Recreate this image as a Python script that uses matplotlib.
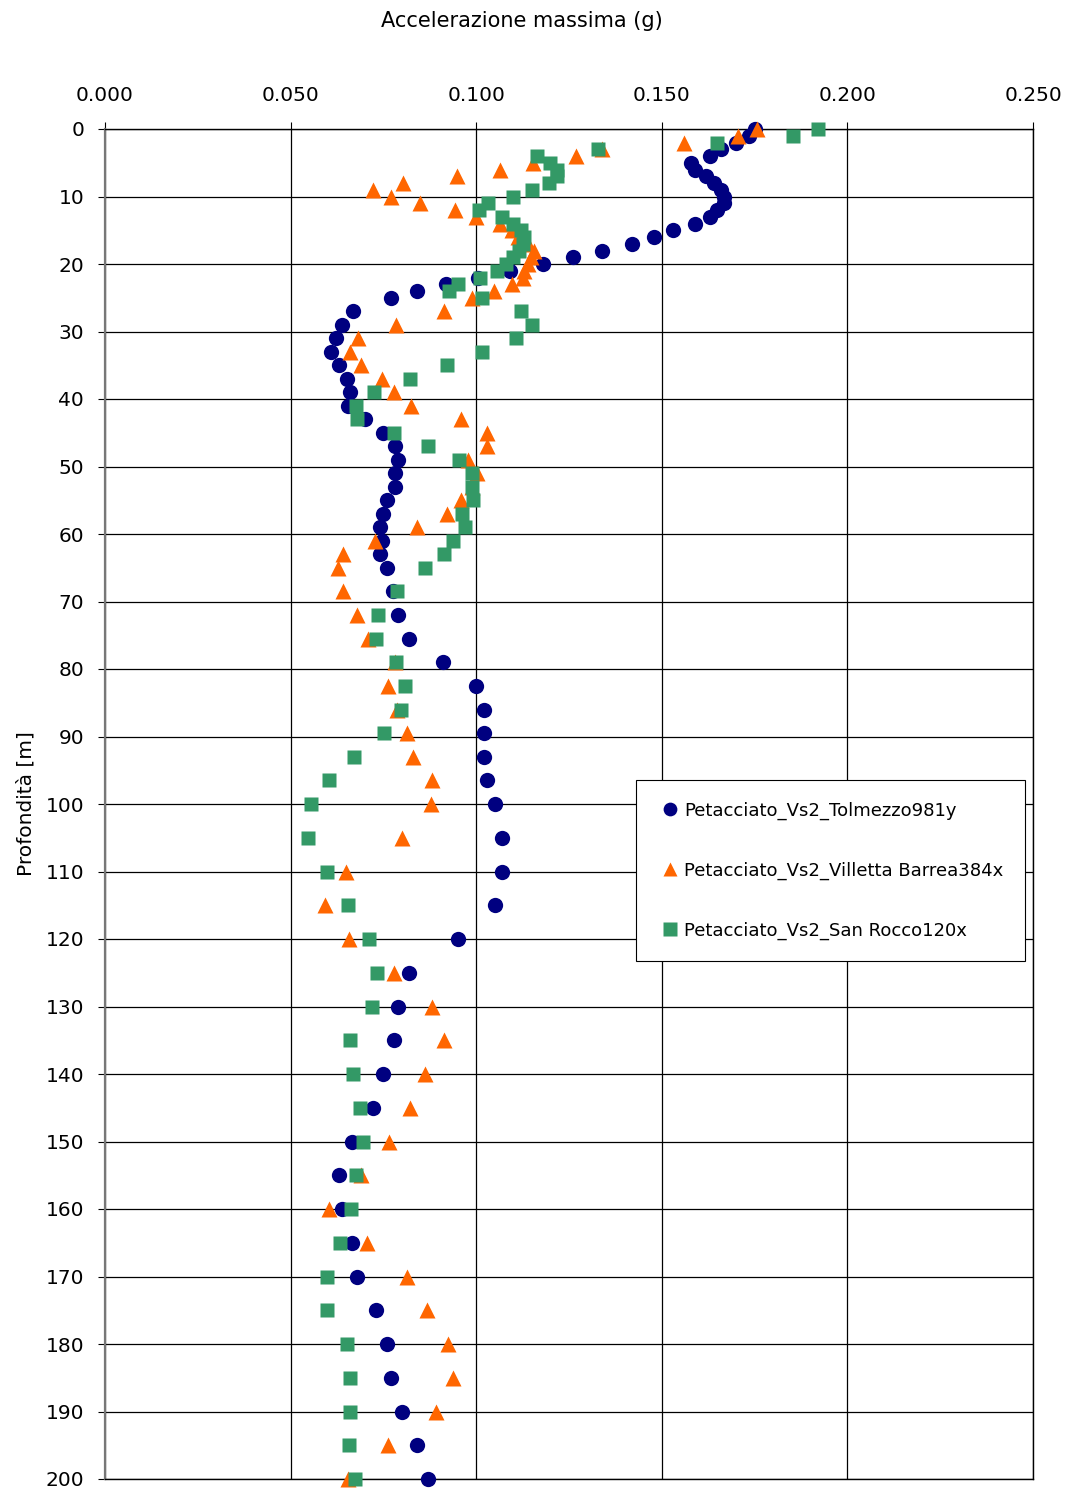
import numpy as np
import matplotlib.pyplot as plt

# profondita' (m)
depth = [0, 1, 2, 3, 4, 5, 6, 7, 8, 9, 10, 11, 12, 13, 14, 15, 16, 17, 18, 19, 20, 21, 22, 23, 24, 25,
         27, 29, 31, 33, 35, 37, 39, 41, 43, 45, 47, 49, 51, 53, 55, 57, 59, 61, 63, 65,
         68.5, 72, 75.5, 79, 82.5, 86, 89.5, 93, 96.5, 100,
         105, 110, 115, 120, 125, 130, 135, 140, 145, 150, 155, 160, 165, 170, 175, 180, 185, 190, 195, 200]

tolmezzo = [0.175, 0.1735, 0.170, 0.166, 0.163, 0.158, 0.159, 0.162, 0.164, 0.166, 0.1668, 0.1668, 0.165,
            0.163, 0.159, 0.153, 0.148, 0.142, 0.134, 0.126, 0.118, 0.109, 0.1005, 0.0918, 0.0841, 0.077,
            0.0668, 0.0638, 0.0622, 0.0609, 0.063, 0.0652, 0.066, 0.0655, 0.070, 0.075, 0.078, 0.079, 0.078,
            0.078, 0.076, 0.0749, 0.0741, 0.0746, 0.0741, 0.076,
            0.0776, 0.079, 0.082, 0.091, 0.100, 0.1021, 0.1021, 0.1021, 0.1029, 0.1051,
            0.107, 0.107, 0.1051, 0.0951, 0.0819, 0.0789, 0.0779, 0.0749, 0.0722, 0.0665, 0.063, 0.0639,
            0.0665, 0.0679, 0.073, 0.076, 0.077, 0.080, 0.084, 0.087]

villetta = [0.1756, 0.1705, 0.156, 0.134, 0.127, 0.1153, 0.1064, 0.0948, 0.0803, 0.0722, 0.077, 0.0849, 0.0943,
            0.0999, 0.1064, 0.1096, 0.1113, 0.114, 0.1155, 0.1148, 0.114, 0.1130, 0.1125, 0.1097, 0.1048, 0.0989,
            0.0913, 0.0784, 0.0682, 0.066, 0.069, 0.0746, 0.0779, 0.0824, 0.0959, 0.1029, 0.1029, 0.0978, 0.1002,
            0.099, 0.0959, 0.0921, 0.0841, 0.0727, 0.0641, 0.0628,
            0.0641, 0.0679, 0.0709, 0.078, 0.0762, 0.0787, 0.0814, 0.083, 0.0881, 0.0878,
            0.080, 0.065, 0.0593, 0.0657, 0.0779, 0.0881, 0.0913, 0.0862, 0.0822, 0.0765, 0.069, 0.0603,
            0.0705, 0.0813, 0.0867, 0.0924, 0.0938, 0.0892, 0.0762, 0.0655]

sanrocco = [0.192, 0.1853, 0.165, 0.1328, 0.1164, 0.1199, 0.1218, 0.1218, 0.1196, 0.115, 0.1099, 0.1032, 0.1008,
            0.107, 0.110, 0.112, 0.1128, 0.1126, 0.1115, 0.110, 0.108, 0.1056, 0.101, 0.0951, 0.0927, 0.1016,
            0.1121, 0.1150, 0.1107, 0.1016, 0.0921, 0.0822, 0.0725, 0.0676, 0.0679, 0.0779, 0.0870, 0.0954, 0.0989,
            0.0989, 0.0991, 0.0962, 0.097, 0.0938, 0.0913, 0.0862,
            0.0787, 0.0735, 0.073, 0.0784, 0.0808, 0.0797, 0.0752, 0.0671, 0.0603, 0.0554,
            0.0548, 0.0598, 0.0654, 0.0711, 0.0733, 0.0719, 0.066, 0.0668, 0.0687, 0.0695, 0.0676, 0.0663,
            0.0633, 0.0598, 0.0598, 0.0652, 0.066, 0.066, 0.0657, 0.0673]

labels = ["Petacciato_Vs2_Tolmezzo981y", "Petacciato_Vs2_Villetta Barrea384x", "Petacciato_Vs2_San Rocco120x"]

fig = plt.figure(figsize=(10.83, 14.88), dpi=100)
ax = fig.add_axes([105/1083, 1 - 1479/1488, 928/1083, 1350/1488])

ms = 11
ax.plot(tolmezzo, depth, "o", color="#000080", ms=ms, mec="none", label=labels[0], clip_on=False, zorder=3)
ax.plot(villetta, depth, "^", color="#FF6600", ms=ms, mec="none", label=labels[1], clip_on=False, zorder=4)
ax.plot(sanrocco, depth, "s", color="#339966", ms=ms * 0.95, mec="none", label=labels[2], clip_on=False, zorder=5)

ax.set_xlim(0, 0.25)
ax.set_ylim(200, 0)
ax.set_xticks(np.arange(0, 0.26, 0.05))
ax.set_yticks(np.arange(0, 201, 10))
ax.xaxis.tick_top()
ax.set_xticklabels(["%.3f" % v for v in np.arange(0, 0.26, 0.05)])
ax.tick_params(axis="both", labelsize=14.5, direction="out", length=5, color="black")
ax.tick_params(axis="x", pad=12)
ax.tick_params(axis="y", pad=10)
ax.grid(True, color="black", linewidth=0.9)
ax.set_axisbelow(True)
for s in ax.spines.values():
    s.set_color("black")
    s.set_linewidth(1.0)
ax.spines["left"].set_color("#777777")
ax.spines["left"].set_linewidth(1.6)

ax.set_ylabel("Profondità [m]", fontsize=14.5, labelpad=7)
fig.text(522/1083, 1 - 21/1488, "Accelerazione massima (g)", fontsize=15, ha="center", va="center")

leg = ax.legend(loc="upper left", bbox_to_anchor=(636/1083, 1 - 780/1488), bbox_transform=fig.transFigure,
                fontsize=13, frameon=True, fancybox=False, framealpha=1, edgecolor="black",
                labelspacing=2.3, handlelength=1.4, handletextpad=0.05, borderpad=1.2, borderaxespad=0,
                markerscale=0.9)
leg.get_frame().set_linewidth(0.8)

fig.savefig("out.png", dpi=100)
